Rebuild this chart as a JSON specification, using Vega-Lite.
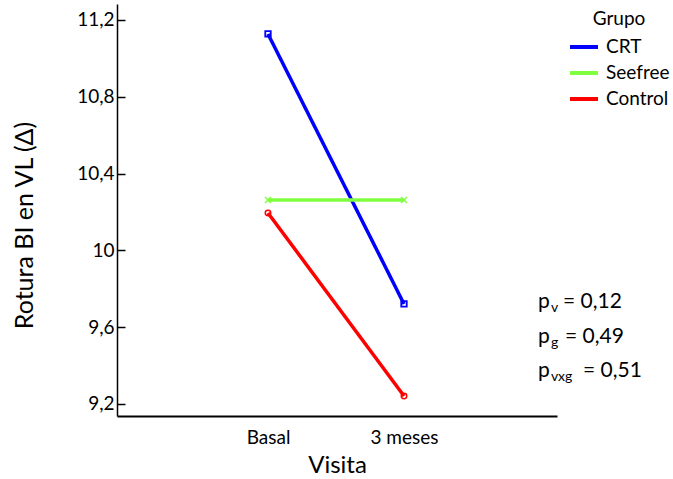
{
  "$schema": "https://vega.github.io/schema/vega-lite/v6.json",
  "width": 440,
  "height": 412,
  "autosize": {"type": "none"},
  "padding": {"left": 117, "top": 4, "right": 116, "bottom": 63},
  "background": "white",
  "config": {
    "view": {"stroke": null},
    "font": "Lato",
    "axis": {"grid": false, "labelFont": "Lato", "titleFont": "Lato", "labelColor": "black", "titleColor": "black", "titleFontWeight": "normal"},
    "legend": {"labelFont": "Lato", "titleFont": "Lato"}
  },
  "datasets": {
    "d": [
      {"Grupo": "CRT", "mes": 0, "valor": 11.127},
      {"Grupo": "CRT", "mes": 3, "valor": 9.721},
      {"Grupo": "Seefree", "mes": 0, "valor": 10.262},
      {"Grupo": "Seefree", "mes": 3, "valor": 10.262},
      {"Grupo": "Control", "mes": 0, "valor": 10.195},
      {"Grupo": "Control", "mes": 3, "valor": 9.242}
    ],
    "one": [{"k": 1}]
  },
  "layer": [
    {
      "data": {"name": "d"},
      "mark": {"type": "line", "strokeWidth": 3.5},
      "encoding": {
        "x": {
          "field": "mes", "type": "quantitative",
          "scale": {"domain": [-3.331, 6.375], "nice": false, "zero": false},
          "axis": {
            "values": [0, 3], "ticks": false, "labelExpr": "datum.value == 0 ? 'Basal' : '3 meses'",
            "labelFontSize": 19, "labelPadding": 12, "domainColor": "black", "domainWidth": 2,
            "title": "Visita", "titleFontSize": 24, "titlePadding": 6
          }
        },
        "y": {
          "field": "valor", "type": "quantitative",
          "scale": {"domain": [9.1375, 11.283], "nice": false, "zero": false},
          "axis": {
            "values": [9.2, 9.6, 10, 10.4, 10.8, 11.2],
            "labelExpr": "replace(format(datum.value, '.1~f'), '.', ',')",
            "labelFontSize": 19, "tickSize": -8, "tickColor": "black", "tickWidth": 1.5,
            "labelPadding": 11, "domainColor": "black", "domainWidth": 1.5,
            "title": "Rotura BI en VL (Δ)", "titleFontSize": 25, "titleX": -80, "titleY": 221,
            "titleAngle": -90, "titleBaseline": "bottom", "titleAlign": "center"
          }
        },
        "color": {
          "field": "Grupo", "type": "nominal",
          "scale": {"domain": ["CRT", "Seefree", "Control"], "range": ["#0000ff", "#80ff40", "#ff0000"]},
          "legend": {
            "orient": "none", "legendX": 451, "legendY": 6, "title": "Grupo",
            "titleFontSize": 19, "titleFontWeight": "normal", "titleColor": "black", "titleAnchor": "middle",
            "labelFontSize": 19, "labelColor": "black", "symbolType": "stroke", "symbolSize": 784,
            "symbolStrokeWidth": 4, "rowPadding": 0, "labelOffset": 6, "titlePadding": 2
          }
        }
      }
    },
    {
      "data": {"name": "d"},
      "transform": [{"filter": "datum.Grupo == 'CRT'"}],
      "mark": {"type": "point", "shape": "square", "filled": false, "strokeWidth": 1.8, "size": 30, "opacity": 1},
      "encoding": {
        "x": {"field": "mes", "type": "quantitative"},
        "y": {"field": "valor", "type": "quantitative"},
        "color": {"field": "Grupo", "type": "nominal", "legend": null}
      }
    },
    {
      "data": {"name": "d"},
      "transform": [{"filter": "datum.Grupo == 'Seefree'"}],
      "mark": {"type": "point", "shape": "M-1,-1L1,1M1,-1L-1,1", "filled": false, "strokeWidth": 1.5, "size": 36, "opacity": 1},
      "encoding": {
        "x": {"field": "mes", "type": "quantitative"},
        "y": {"field": "valor", "type": "quantitative"},
        "color": {"field": "Grupo", "type": "nominal", "legend": null}
      }
    },
    {
      "data": {"name": "d"},
      "transform": [{"filter": "datum.Grupo == 'Control'"}],
      "mark": {"type": "point", "shape": "circle", "filled": false, "strokeWidth": 1.5, "size": 30, "opacity": 1},
      "encoding": {
        "x": {"field": "mes", "type": "quantitative"},
        "y": {"field": "valor", "type": "quantitative"},
        "color": {"field": "Grupo", "type": "nominal", "legend": null}
      }
    },
    {"data": {"name": "one"}, "mark": {"type": "text", "text": "p", "align": "left", "baseline": "alphabetic", "fontSize": 21, "font": "Lato", "color": "black"},
     "encoding": {"x": {"datum": 5.956, "type": "quantitative"}, "y": {"datum": 9.70, "type": "quantitative"}}},
    {"data": {"name": "one"}, "mark": {"type": "text", "text": "v", "align": "left", "baseline": "alphabetic", "fontSize": 14, "font": "Lato", "color": "black"},
     "encoding": {"x": {"datum": 6.24, "type": "quantitative"}, "y": {"datum": 9.679, "type": "quantitative"}}},
    {"data": {"name": "one"}, "mark": {"type": "text", "text": "= 0,12", "align": "left", "baseline": "alphabetic", "fontSize": 21, "font": "Lato", "color": "black"},
     "encoding": {"x": {"datum": 6.507, "type": "quantitative"}, "y": {"datum": 9.70, "type": "quantitative"}}},
    {"data": {"name": "one"}, "mark": {"type": "text", "text": "p", "align": "left", "baseline": "alphabetic", "fontSize": 21, "font": "Lato", "color": "black"},
     "encoding": {"x": {"datum": 5.956, "type": "quantitative"}, "y": {"datum": 9.518, "type": "quantitative"}}},
    {"data": {"name": "one"}, "mark": {"type": "text", "text": "g", "align": "left", "baseline": "alphabetic", "fontSize": 14, "font": "Lato", "color": "black"},
     "encoding": {"x": {"datum": 6.24, "type": "quantitative"}, "y": {"datum": 9.497, "type": "quantitative"}}},
    {"data": {"name": "one"}, "mark": {"type": "text", "text": "= 0,49", "align": "left", "baseline": "alphabetic", "fontSize": 21, "font": "Lato", "color": "black"},
     "encoding": {"x": {"datum": 6.551, "type": "quantitative"}, "y": {"datum": 9.518, "type": "quantitative"}}},
    {"data": {"name": "one"}, "mark": {"type": "text", "text": "p", "align": "left", "baseline": "alphabetic", "fontSize": 21, "font": "Lato", "color": "black"},
     "encoding": {"x": {"datum": 5.956, "type": "quantitative"}, "y": {"datum": 9.341, "type": "quantitative"}}},
    {"data": {"name": "one"}, "mark": {"type": "text", "text": "vxg", "align": "left", "baseline": "alphabetic", "fontSize": 14, "font": "Lato", "color": "black"},
     "encoding": {"x": {"datum": 6.24, "type": "quantitative"}, "y": {"datum": 9.320, "type": "quantitative"}}},
    {"data": {"name": "one"}, "mark": {"type": "text", "text": "= 0,51", "align": "left", "baseline": "alphabetic", "fontSize": 21, "font": "Lato", "color": "black"},
     "encoding": {"x": {"datum": 6.949, "type": "quantitative"}, "y": {"datum": 9.341, "type": "quantitative"}}}
  ]
}
